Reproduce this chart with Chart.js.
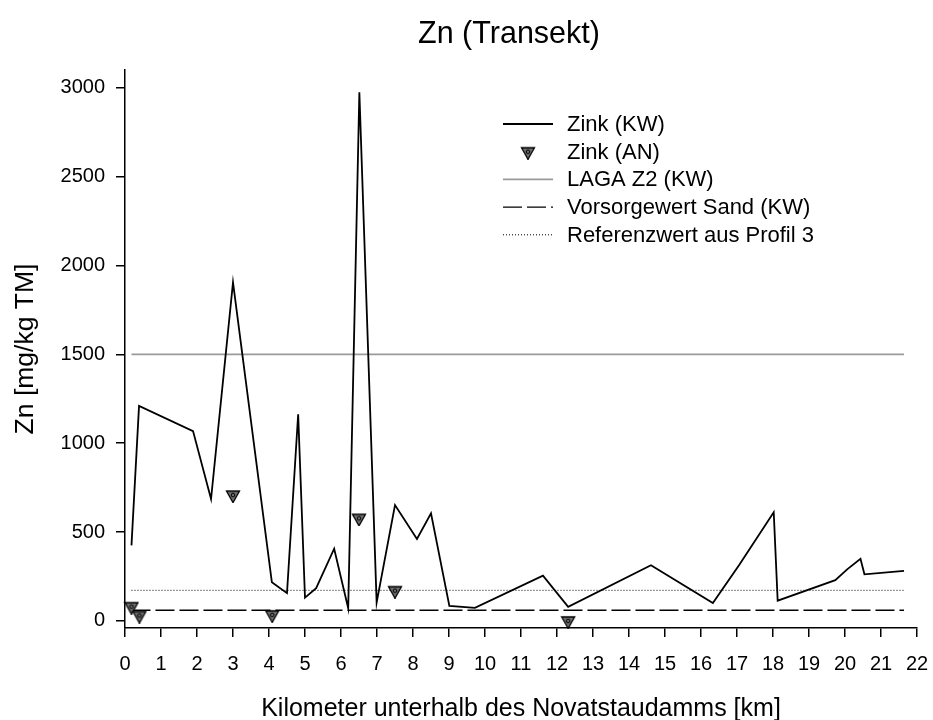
<!DOCTYPE html>
<html>
<head>
<meta charset="utf-8">
<title>Zn (Transekt)</title>
<script src="https://cdn.jsdelivr.net/npm/chart.js@4/dist/chart.umd.min.js"></script>
<style>
  html, body { margin: 0; padding: 0; background: #fff; }
  #wrap { width: 933px; height: 720px; }
</style>
</head>
<body>
<div id="wrap"><canvas id="znChart" width="933" height="720"></canvas></div>
<script>
// Zink (KW): km below the dam and Zn content
const kmKW = [0.18, 0.39, 1.89, 2.39, 3.0, 4.08, 4.5, 4.81, 5.0, 5.31, 5.81, 6.2, 6.51, 6.99, 7.5, 8.11, 8.5, 9.01, 9.72, 11.61, 12.31, 14.61, 16.33, 17.06, 18.02, 18.13, 19.73, 20.06, 20.43, 20.54, 21.64];
const znKW = [425, 1210, 1068, 686, 1905, 217, 156, 1163, 131, 184, 406, 71, 2975, 103, 652, 461, 605, 84, 73, 255, 79, 313, 101, 315, 611, 114, 229, 290, 349, 262, 281];

// Zink (AN) samples
const kmAN = [0.18, 0.4, 3.0, 4.09, 6.5, 7.5, 12.31];
const znAN = [80, 30, 708, 34, 577, 170, 0];

// limit / reference values
const lagaZ2 = 1500;
const vorsorgeSand = 60;
const referenzProfil3 = 172;

const yTicks = [0, 500, 1000, 1500, 2000, 2500, 3000];
const xTicks = [0, 1, 2, 3, 4, 5, 6, 7, 8, 9, 10, 11, 12, 13, 14, 15, 16, 17, 18, 19, 20, 21, 22];

const FONT = '"Liberation Sans", Arial, Helvetica, sans-serif';

function pairs(xs, ys) {
  return xs.map((x, i) => ({ x: x, y: ys[i] }));
}

function hline(value) {
  return [{ x: kmKW[0], y: value }, { x: kmKW[kmKW.length - 1], y: value }];
}

// downward triangle with a small ring in the middle
function makeMarker() {
  const c = document.createElement('canvas');
  c.width = 16;
  c.height = 16;
  const g = c.getContext('2d');
  g.beginPath();
  g.moveTo(1.5, 4);
  g.lineTo(14.5, 4);
  g.lineTo(8, 15.5);
  g.closePath();
  g.fillStyle = '#6e6e6e';
  g.fill();
  g.lineWidth = 1.3;
  g.strokeStyle = '#000';
  g.stroke();
  g.beginPath();
  g.arc(8, 8, 1.8, 0, Math.PI * 2);
  g.lineWidth = 1;
  g.stroke();
  return c;
}

const marker = makeMarker();

const legendItems = [
  { label: 'Zink (KW)', color: '#000', width: 1.8, dash: [] },
  { label: 'Zink (AN)', marker: true },
  { label: 'LAGA Z2 (KW)', color: '#9a9a9a', width: 1.6, dash: [] },
  { label: 'Vorsorgewert Sand (KW)', color: '#000', width: 1.3, dash: [19, 5] },
  { label: 'Referenzwert aus Profil 3', color: '#000', width: 1, dash: [1, 2] }
];

const legendPlugin = {
  id: 'boxLegend',
  afterLayout(chart) {
    // keep the title over the middle of the plot frame
    const t = chart.titleBlock;
    const w = t.right - t.left;
    const mid = (chart.chartArea.left + chart.chartArea.right) / 2 - 12;
    t.left = mid - w / 2;
    t.right = mid + w / 2;
  },
  afterDraw(chart) {
    const ctx = chart.ctx;
    const x0 = 503, x1 = 553, tx = 567;
    let y = 124;
    ctx.save();
    ctx.font = '22px ' + FONT;
    ctx.textBaseline = 'middle';
    ctx.fillStyle = '#000';
    legendItems.forEach(item => {
      if (item.marker) {
        ctx.drawImage(marker, (x0 + x1) / 2 - 8, y - 8);
      } else {
        ctx.beginPath();
        ctx.setLineDash(item.dash);
        ctx.lineWidth = item.width;
        ctx.strokeStyle = item.color;
        ctx.moveTo(x0, y);
        ctx.lineTo(x1, y);
        ctx.stroke();
        ctx.setLineDash([]);
      }
      ctx.fillText(item.label, tx, y + 1);
      y += 27.7;
    });
    ctx.restore();
  }
};

new Chart(document.getElementById('znChart'), {
  type: 'line',
  data: {
    datasets: [
      {
        label: 'Zink (AN)',
        data: pairs(kmAN, znAN),
        showLine: false,
        pointStyle: marker,
        pointRadius: 8,
        clip: false
      },
      {
        label: 'Zink (KW)',
        data: pairs(kmKW, znKW),
        borderColor: '#000',
        borderWidth: 1.8,
        pointRadius: 0,
        tension: 0
      },
      {
        label: 'LAGA Z2 (KW)',
        data: hline(lagaZ2),
        borderColor: '#9a9a9a',
        borderWidth: 1.6,
        pointRadius: 0
      },
      {
        label: 'Vorsorgewert Sand (KW)',
        data: hline(vorsorgeSand),
        borderColor: '#000',
        borderWidth: 1.3,
        borderDash: [19, 5],
        pointRadius: 0
      },
      {
        label: 'Referenzwert aus Profil 3',
        data: hline(referenzProfil3),
        borderColor: '#000',
        borderWidth: 1,
        borderDash: [1, 2],
        pointRadius: 0
      }
    ]
  },
  options: {
    responsive: false,
    animation: false,
    events: [],
    layout: { padding: { left: 0, right: 16, top: 0, bottom: 0 } },
    plugins: {
      legend: { display: false },
      tooltip: { enabled: false },
      title: {
        display: true,
        text: 'Zn (Transekt)',
        color: '#000',
        font: { family: FONT, size: 30.5, weight: 'normal', lineHeight: 1.2 },
        padding: { top: 16, bottom: 17.4 }
      }
    },
    scales: {
      x: {
        type: 'linear',
        min: 0,
        max: 22,
        afterBuildTicks: scale => { scale.ticks = xTicks.map(v => ({ value: v })); },
        afterFit: scale => {
          scale.height = 92;
          scale.paddingLeft = 0;
          scale.paddingRight = 0;
        },
        grid: { drawOnChartArea: false, drawTicks: true, tickLength: 9, color: '#000', lineWidth: 1.5 },
        border: { display: true, color: '#000', width: 1.5 },
        ticks: {
          color: '#000', padding: 15, maxRotation: 0, autoSkip: false,
          font: { family: FONT, size: 20 },
          callback: v => String(v)
        },
        title: {
          display: true,
          text: 'Kilometer unterhalb des Novatstaudamms [km]',
          color: '#000',
          font: { family: FONT, size: 25, lineHeight: 1.0 },
          padding: { top: 0, bottom: -2 }
        }
      },
      y: {
        type: 'linear',
        min: -40,
        max: 3100,
        afterBuildTicks: scale => { scale.ticks = yTicks.map(v => ({ value: v })); },
        afterFit: scale => { scale.width = 125; },
        grid: { drawOnChartArea: false, drawTicks: true, tickLength: 9, color: '#000', lineWidth: 1.5 },
        border: { display: true, color: '#000', width: 1.5 },
        ticks: {
          color: '#000', padding: 11,
          font: { family: FONT, size: 20 },
          callback: v => String(v)
        },
        title: {
          display: true,
          text: 'Zn [mg/kg TM]',
          color: '#000',
          font: { family: FONT, size: 26.5, lineHeight: 1.0 },
          padding: { top: 12, bottom: 0 }
        }
      }
    }
  },
  plugins: [legendPlugin]
});
</script>
</body>
</html>
